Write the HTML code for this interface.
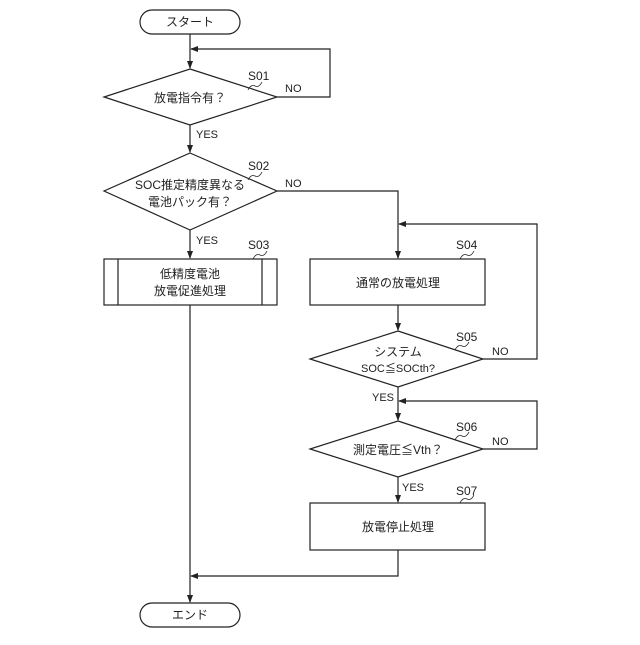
<!DOCTYPE html>
<html><head><meta charset="utf-8"><style>body{margin:0;background:#fff}</style></head><body>
<svg width="640" height="640" viewBox="0 0 640 640" xmlns="http://www.w3.org/2000/svg" font-family="'Liberation Sans','Noto Sans CJK JP',sans-serif" font-size="12" fill="none" stroke="#222" stroke-width="1.2">
<defs><marker id="a" markerWidth="8" markerHeight="8" refX="7" refY="4" orient="auto" markerUnits="userSpaceOnUse"><path d="M0,1 L8,4 L0,7Z" fill="#222" stroke="none"/></marker></defs>
<rect x="140" y="10" width="100" height="24" rx="12"/>
<rect x="140" y="603" width="100" height="24" rx="12"/>
<line x1="190" y1="34" x2="190" y2="68" marker-end="url(#a)"/>
<polyline points="277,97 330,97 330,49 191,49" marker-end="url(#a)"/>
<polygon points="190,69 277,97 190,125 104,97"/>
<line x1="190" y1="125" x2="190" y2="152" marker-end="url(#a)"/>
<polygon points="190,153 277,191 190,230 104,191"/>
<polyline points="277,191 398,191 398,258" marker-end="url(#a)"/>
<line x1="190" y1="230" x2="190" y2="258" marker-end="url(#a)"/>
<rect x="104" y="259" width="173" height="46"/>
<line x1="118" y1="259" x2="118" y2="305"/><line x1="262" y1="259" x2="262" y2="305"/>
<line x1="190" y1="305" x2="190" y2="602" marker-end="url(#a)"/>
<polyline points="483,359 537,359 537,224 399,224" marker-end="url(#a)"/>
<rect x="310" y="259" width="175" height="46"/>
<line x1="398" y1="305" x2="398" y2="330" marker-end="url(#a)"/>
<polygon points="398,331 483,359 398,387 310,359"/>
<line x1="398" y1="387" x2="398" y2="420" marker-end="url(#a)"/>
<polyline points="483,449 537,449 537,401 399,401" marker-end="url(#a)"/>
<polygon points="398,421 483,449 398,477 310,449"/>
<line x1="398" y1="477" x2="398" y2="502" marker-end="url(#a)"/>
<rect x="310" y="503" width="175" height="47"/>
<polyline points="398,550 398,576 191,576" marker-end="url(#a)"/>
<g stroke-width="0.8">
<path d="M248,90 q3,-6 7,-4 q4,2 7,-4"/><path d="M248,180 q3,-6 7,-4 q4,2 7,-4"/><path d="M253,259 q3,-6 7,-4 q4,2 7,-4"/>
<path d="M460,259 q3,-6 7,-4 q4,2 7,-4"/><path d="M455,350 q3,-6 7,-4 q4,2 7,-4"/><path d="M455,440 q3,-6 7,-4 q4,2 7,-4"/><path d="M460,503 q3,-6 7,-4 q4,2 7,-4"/>
</g>
<g fill="#222" stroke="none">
<text x="190" y="26" text-anchor="middle">スタート</text>
<text x="190" y="619" text-anchor="middle">エンド</text>
<text x="190" y="102" text-anchor="middle">放電指令有？</text>
<text x="190" y="189" text-anchor="middle">SOC推定精度異なる</text>
<text x="190" y="206" text-anchor="middle">電池パック有？</text>
<text x="190" y="278" text-anchor="middle">低精度電池</text>
<text x="190" y="295" text-anchor="middle">放電促進処理</text>
<text x="398" y="287" text-anchor="middle">通常の放電処理</text>
<text x="398" y="356" text-anchor="middle">システム</text>
<text x="398" y="372" text-anchor="middle" font-size="11">SOC≦SOCth?</text>
<text x="398" y="454" text-anchor="middle">測定電圧≦Vth？</text>
<text x="398" y="531" text-anchor="middle">放電停止処理</text>
<text x="248" y="80">S01</text><text x="248" y="170">S02</text><text x="248" y="249">S03</text>
<text x="456" y="249">S04</text><text x="456" y="341">S05</text><text x="456" y="431">S06</text><text x="456" y="495">S07</text>
<g font-size="11">
<text x="285" y="92">NO</text><text x="285" y="187">NO</text><text x="492" y="355">NO</text><text x="492" y="445">NO</text>
<text x="196" y="138">YES</text><text x="196" y="244">YES</text><text x="372" y="401">YES</text><text x="402" y="491">YES</text>
</g></g>
</svg>
</body></html>
